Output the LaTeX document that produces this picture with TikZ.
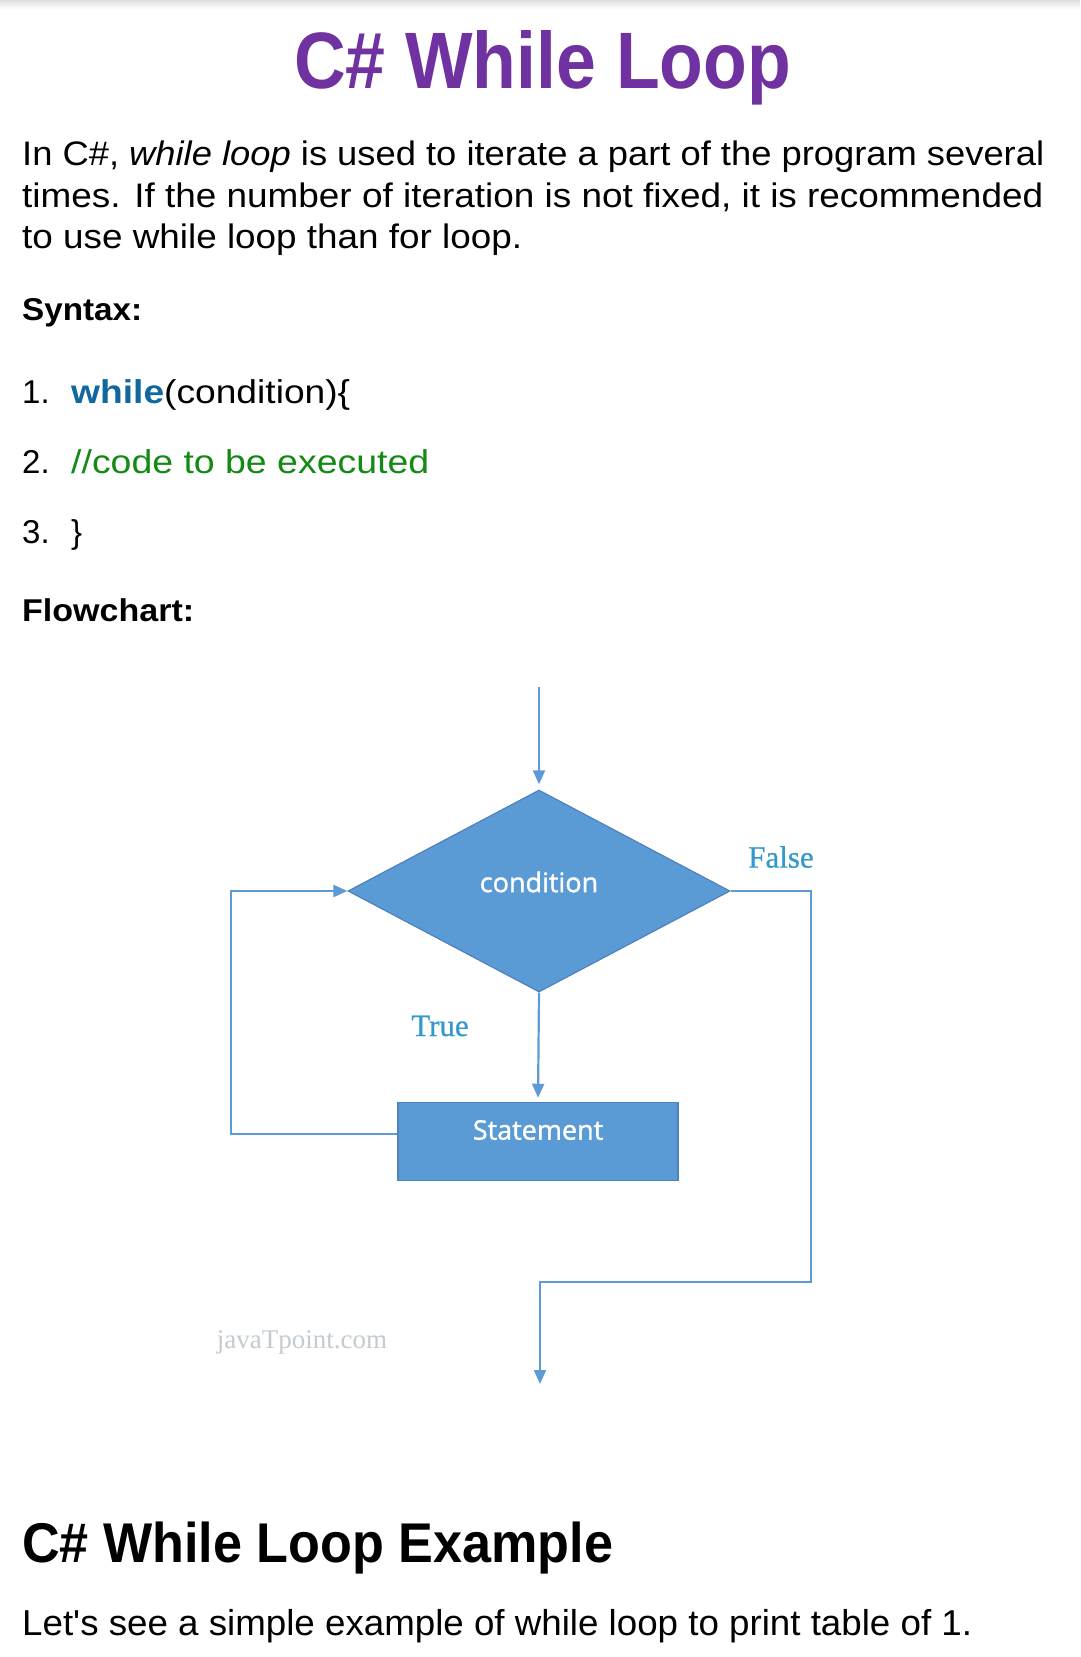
\documentclass[tikz,border=0pt]{standalone}
\usepackage{fontspec}
\setmainfont{Liberation Sans}[Ligatures=TeXOff]
\newfontfamily\serifl{Liberation Serif}[FakeBold=0.6]
\newfontfamily\serifw{Liberation Serif}
\newfontfamily\flowf{Open Sans}[FakeBold=1.2]
\usetikzlibrary{shapes.geometric,arrows.meta}
\definecolor{ttl}{HTML}{7032A0}
\definecolor{kw}{HTML}{10689E}
\definecolor{cmt}{HTML}{138A13}
\definecolor{flowfill}{HTML}{5B9BD5}
\definecolor{flowedge}{HTML}{4F81BD}
\definecolor{lineblue}{HTML}{5E9AD6}
\definecolor{lblblue}{HTML}{3399CC}
\definecolor{wmgray}{HTML}{C3CBD0}
\newsavebox\fitbox
\newcommand\fitto[2]{\sbox\fitbox{#2}\pgfmathsetmacro\fitfac{#1/(\wd\fitbox)}\scalebox{\fitfac}[1]{\usebox\fitbox}}
\begin{document}
\begin{tikzpicture}[x=1pt,y=-1pt,
  txt/.style={inner sep=0pt, anchor=base west, text=black},
  para/.style={txt, font=\fontsize{34}{40}\selectfont},
  codetxt/.style={txt, font=\fontsize{33}{40}\selectfont},
  hd/.style={txt, font=\bfseries\fontsize{31.5}{37}\selectfont},
  flow/.style={draw=lineblue, line width=2.2pt},
  arr/.style={flow, -{Triangle[length=14pt,width=12pt]}},
  dia/.style={diamond, fill=flowfill, draw=flowedge, line width=1.2pt, minimum width=382pt, minimum height=202pt, inner sep=0pt},
  stmtbox/.style={rectangle, fill=flowfill, draw=flowedge, line width=1.5pt, minimum width=280pt, minimum height=78pt, inner sep=0pt},
  dtext/.style={text=white, font=\flowf\fontsize{27}{30}\selectfont, inner sep=0pt},
  fl/.style={text=lblblue, font=\serifl\fontsize{31}{34}\selectfont, inner sep=0pt},
  wm/.style={text=wmgray, font=\serifw\fontsize{27}{30}\selectfont, inner sep=0pt}
]
\useasboundingbox (0,0) rectangle (1080,1657);
\fill[white] (0,0) rectangle (1080,1657);
\shade[top color=black!13, bottom color=white] (0,0) rectangle (1080,9);

% title and text
\node[txt, anchor=base, text=ttl, font=\bfseries\fontsize{80}{90}\selectfont] (title) at (542.5,88) {\fitto{497}{C\# While Loop}};
\node[para] (p1) at (22,165) {\fitto{1022}{In C\#, \textit{while loop} is used to iterate a part of the program several}};
\node[para] (p2) at (22,207) {\fitto{1021}{times. If the number of iteration is not fixed, it is recommended}};
\node[para] (p3) at (22,248) {\fitto{500}{to use while loop than for loop.}};
\node[hd] (syn) at (22,320) {\fitto{120}{Syntax:}};
\node[codetxt] (n1) at (22,403) {1.};
\node[codetxt] (c1) at (71,403) {\fitto{279}{\textcolor{kw}{\bfseries while}(condition)\{}};
\node[codetxt] (n2) at (22,473) {2.};
\node[codetxt, text=cmt] (c2) at (71,473) {\fitto{358}{//code to be executed}};
\node[codetxt] (n3) at (22,543) {3.};
\node[codetxt] (c3) at (71,543) {\}};
\node[hd] (fc) at (22,621) {\fitto{172}{Flowchart:}};

% flowchart
\node[dia, label={[dtext, yshift=9pt]center:condition}] (cond) at (539,891) {};
\node[stmtbox, label={[dtext, yshift=11.5pt]center:Statement}] (st) at (538,1141.5) {};
\coordinate (in) at (539,687);
\coordinate (lb) at (231,1134);
\coordinate (lt) at (231,891);
\coordinate (r1) at (811,891);
\coordinate (r2) at (811,1282);
\coordinate (r3) at (540,1282);
\coordinate (out) at (540,1384);
\draw[arr, shorten >=5pt] (in) -- (cond.north);
\draw[arr, shorten >=4pt] (cond.south) -- (st.north);
\draw[arr] ([yshift=7.5pt]st.west) -- (lb) -- (lt) -- (cond.west);
\draw[arr] (cond.east) -- (r1) -- (r2) -- (r3) -- (out);
\node[fl] (false) at (781,857) {False};
\node[fl] (true) at (440,1026) {True};
\node[wm] (wmark) at (302,1342) {javaTpoint.com};

% bottom
\node[txt, font=\bfseries\fontsize{56}{60}\selectfont] (ex) at (22,1562) {\fitto{591}{C\# While Loop Example}};
\node[txt, font=\fontsize{36}{40}\selectfont] (last) at (22,1635) {\fitto{950}{Let's see a simple example of while loop to print table of 1.}};
\end{tikzpicture}
\end{document}
